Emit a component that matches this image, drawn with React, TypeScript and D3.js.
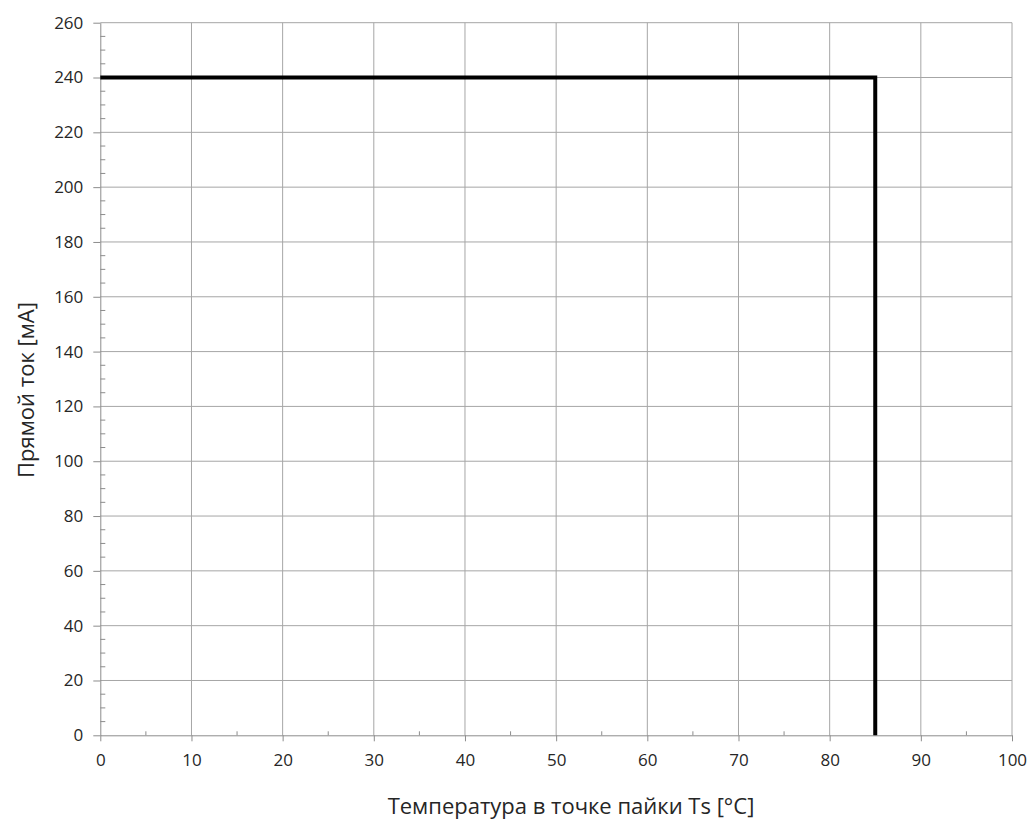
import React, { useEffect, useRef } from "react";
import { axisBottom, axisLeft, line, range, scaleLinear, select } from "d3";

// Derating curve: temperature [°C] vs forward current [mA]
const temps = [0, 85, 85];
const currents = [240, 240, 0];

const xTicks = [0, 10, 20, 30, 40, 50, 60, 70, 80, 90, 100];
const yTicks = [0, 20, 40, 60, 80, 100, 120, 140, 160, 180, 200, 220, 240, 260];

const xTitle = "Температура в точке пайки Ts [°C]";
const yTitle = "Прямой ток [мА]";

const W = 1030;
const H = 821;
const font = "'Open Sans', 'Noto Sans', sans-serif";
const gridColor = "#a6a6a6";
const axisColor = "#8c8c8c";
const textColor = "#262626";

const App: React.FC = () => {
    const svgRef = useRef<SVGSVGElement>(null);

    useEffect(() => {
        const margin = { top: 22.7, right: 18, bottom: 85.7, left: 100.3 };
        const width = W - margin.left - margin.right;
        const height = H - margin.top - margin.bottom;

        const x = scaleLinear().domain([0, 100]).range([0, width]);
        const y = scaleLinear().domain([0, 260]).range([height, 0]);

        const svg = select(svgRef.current);
        svg.selectAll("*").remove();
        const g = svg
            .append("g")
            .attr("transform", `translate(${margin.left},${margin.top})`);

        // gridlines
        g.append("g")
            .selectAll("line")
            .data(xTicks.slice(1))
            .join("line")
            .attr("x1", d => x(d))
            .attr("x2", d => x(d))
            .attr("y1", 0)
            .attr("y2", height)
            .attr("stroke", gridColor)
            .attr("stroke-width", 1);
        g.append("g")
            .selectAll("line")
            .data(yTicks.slice(1))
            .join("line")
            .attr("x1", 0)
            .attr("x2", width)
            .attr("y1", d => y(d))
            .attr("y2", d => y(d))
            .attr("stroke", gridColor)
            .attr("stroke-width", 1);

        // minor ticks
        g.append("g")
            .selectAll("line")
            .data(range(5, 100, 10))
            .join("line")
            .attr("x1", d => x(d))
            .attr("x2", d => x(d))
            .attr("y1", height)
            .attr("y2", height - 4)
            .attr("stroke", axisColor);
        g.append("g")
            .selectAll("line")
            .data(range(0, 260, 5).filter(d => d % 20 !== 0))
            .join("line")
            .attr("x1", 0)
            .attr("x2", 5)
            .attr("y1", d => y(d))
            .attr("y2", d => y(d))
            .attr("stroke", axisColor);

        // axes
        const xAxis = g
            .append("g")
            .attr("transform", `translate(0,${height})`)
            .call(axisBottom(x).tickValues(xTicks).tickSize(6).tickPadding(13).tickSizeOuter(0));
        const yAxis = g
            .append("g")
            .call(axisLeft(y).tickValues(yTicks).tickSize(7).tickPadding(10).tickSizeOuter(0));

        [xAxis, yAxis].forEach(a => {
            a.select(".domain").attr("stroke", axisColor);
            a.selectAll(".tick line").attr("stroke", axisColor);
            a.selectAll(".tick text")
                .attr("fill", textColor)
                .style("font-family", font)
                .style("font-size", "17px");
        });

        // curve
        const pts = temps.map((t, i) => [t, currents[i]] as [number, number]);
        g.append("path")
            .datum(pts)
            .attr("fill", "none")
            .attr("stroke", "#000")
            .attr("stroke-width", 4)
            .attr("stroke-linejoin", "miter")
            .attr(
                "d",
                line<[number, number]>()
                    .x(d => x(d[0]))
                    .y(d => y(d[1])),
            );

        // titles
        svg.append("text")
            .attr("x", 571)
            .attr("y", 814)
            .attr("text-anchor", "middle")
            .attr("fill", textColor)
            .style("font-family", font)
            .style("font-size", "22px")
            .text(xTitle);
        svg.append("text")
            .attr("transform", `translate(34,390) rotate(-90)`)
            .attr("text-anchor", "middle")
            .attr("fill", textColor)
            .style("font-family", font)
            .style("font-size", "22px")
            .text(yTitle);
    }, []);

    return (
        <svg
            ref={svgRef}
            width={W}
            height={H}
            style={{ position: "absolute", left: 0, top: 0, background: "#fff" }}
        />
    );
};

export default App;
